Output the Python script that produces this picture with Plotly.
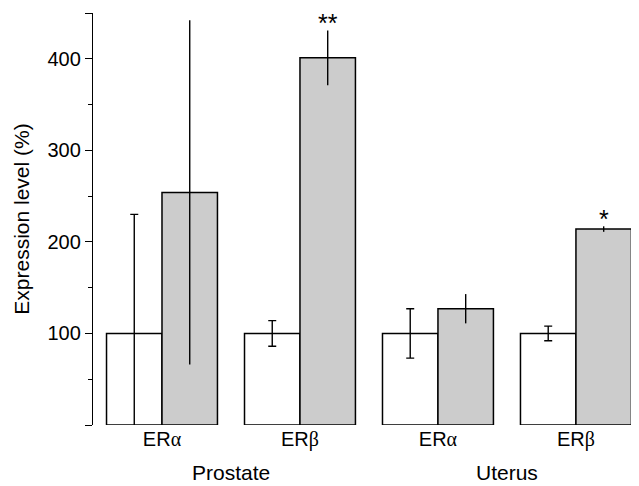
import plotly.graph_objects as go

categories = ["Prostate ERα", "Prostate ERβ", "Uterus ERα", "Uterus ERβ"]
tick_labels = ["ER<span style='font-family:Liberation Serif'>α</span>",
               "ER<span style='font-family:Liberation Serif'>β</span>",
               "ER<span style='font-family:Liberation Serif'>α</span>",
               "ER<span style='font-family:Liberation Serif'>β</span>"]
control_values = [100, 100, 100, 100]
control_errors = [130, 14, 27, 8]
treated_values = [254, 401, 127, 214]
treated_errors = [188, 30, 16, 3]
significance = ["", "**", "", "*"]
group_labels = ["Prostate", "Uterus"]
group_positions = [0.5, 2.5]

FONT = "Liberation Sans, Arial, sans-serif"

fig = go.Figure()
fig.add_trace(go.Bar(
    x=list(range(4)), y=control_values,
    marker=dict(color="white", line=dict(color="black", width=1.5)),
    error_y=dict(type="data", array=control_errors, color="black", thickness=1.4, width=4),
    showlegend=False,
))
fig.add_trace(go.Bar(
    x=list(range(4)), y=treated_values,
    marker=dict(color="#cccccc", line=dict(color="black", width=1.5)),
    error_y=dict(type="data", array=treated_errors, color="black", thickness=1.4, width=0),
    showlegend=False,
))

for i, s in enumerate(significance):
    if s:
        fig.add_annotation(x=i, y=treated_values[i] + treated_errors[i], text=s,
                           xref="x", yref="y", xshift=28, yshift=-9, yanchor="bottom",
                           showarrow=False, font=dict(size=25, family=FONT, color="black"))

for lab, pos in zip(group_labels, group_positions):
    fig.add_annotation(x=pos, y=0, xref="x", yref="paper", text=lab, showarrow=False,
                       yanchor="middle", yshift=-47, font=dict(size=21, family=FONT, color="black"))

fig.update_layout(
    width=631, height=478,
    margin=dict(l=85, r=0, t=5, b=61),
    paper_bgcolor="white", plot_bgcolor="white",
    barmode="group", bargap=0.196, bargroupgap=0,
    font=dict(family=FONT, size=20, color="black"),
    xaxis=dict(range=[-0.5, 3.457], tickvals=list(range(4)), ticktext=tick_labels,
               showline=False, showgrid=False, zeroline=False, ticks="",
               tickfont=dict(size=20, family=FONT)),
    yaxis=dict(range=[0, 450], tickvals=[0, 100, 200, 300, 400, 450],
               ticktext=["", "100", "200", "300", "400", ""],
               showline=True, linecolor="black", linewidth=1.4,
               ticks="outside", ticklen=7, tickwidth=1.4, tickcolor="black",
               minor=dict(tickvals=[50, 150, 250, 350], ticks="outside", ticklen=4,
                          tickwidth=1.4, tickcolor="black"),
               showgrid=False, zeroline=False,
               tickfont=dict(size=20, family=FONT),
               title=dict(text="Expression level (%)", font=dict(size=21, family=FONT), standoff=12)),
)

fig.write_html("out.html")
